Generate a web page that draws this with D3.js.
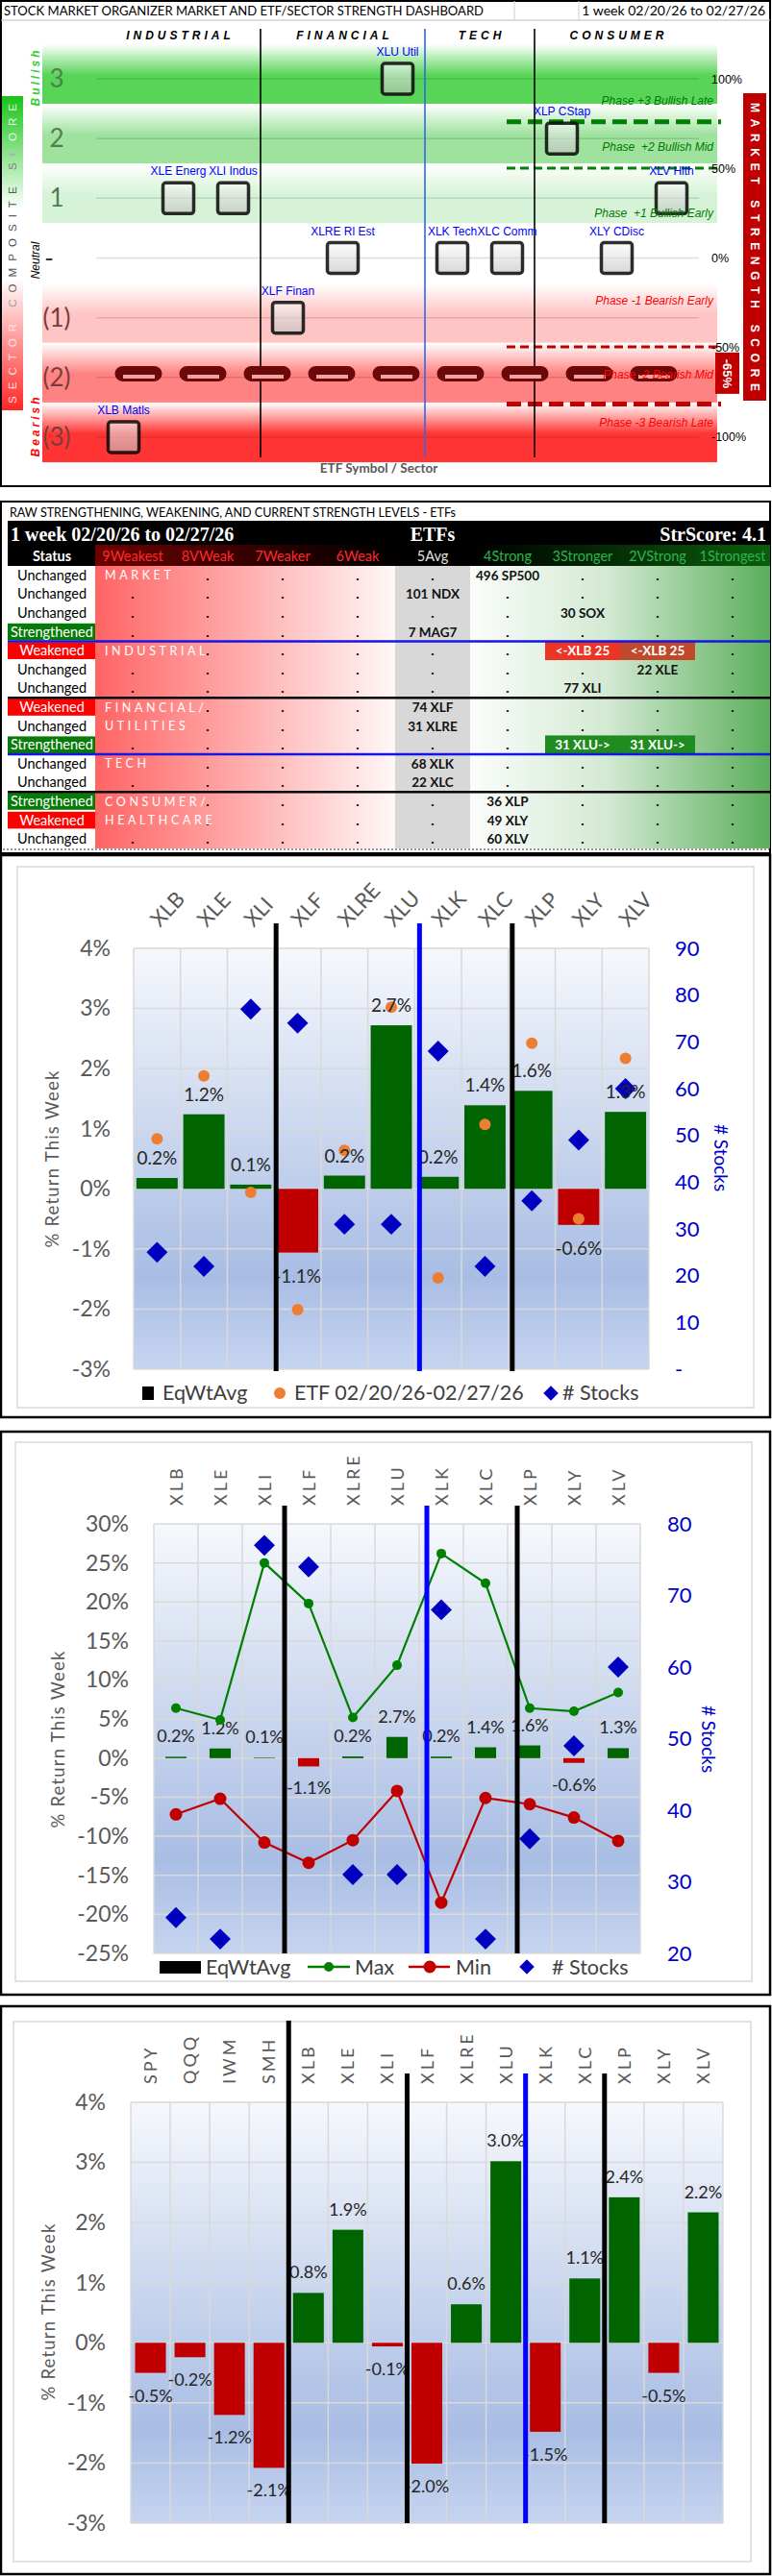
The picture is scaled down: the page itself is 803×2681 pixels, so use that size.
<!DOCTYPE html>
<html>
<head>
<meta charset="utf-8">
<title>ETF Sector Strength Dashboard</title>
<script src="https://cdn.jsdelivr.net/npm/d3@7"></script>
<style>
  html, body { margin: 0; padding: 0; background: #fff; }
  svg { display: block; }
  text { white-space: pre; }
</style>
</head>
<body>
<div id="app"></div>
<script>
const FONT = 'Lato, "Open Sans", "Liberation Sans", sans-serif';
const SANS = '"Liberation Sans", Arial, sans-serif';
const SERIF = '"Liberation Serif", "Times New Roman", serif';

// ---------- data ----------
const dashboardTitle = 'STOCK MARKET ORGANIZER MARKET AND ETF/SECTOR STRENGTH DASHBOARD';
const periodLabel = '1 week 02/20/26 to 02/27/26';
const legendPeriod = 'ETF 02/20/26-02/27/26';

const sectors = ['XLB', 'XLE', 'XLI', 'XLF', 'XLRE', 'XLU', 'XLK', 'XLC', 'XLP', 'XLY', 'XLV'];
const sectorNames = ['Matls', 'Energ', 'Indus', 'Finan', 'Rl Est', 'Util', 'Tech', 'Comm', 'CStap', 'CDisc', 'Hlth'];
const sectorGroup = [0, 0, 0, 1, 1, 1, 2, 2, 3, 3, 3];
const groupNames = ['INDUSTRIAL', 'FINANCIAL', 'TECH', 'CONSUMER'];
const compositeScore = [-3, 1, 1, -1, 0, 3, 0, 0, 2, 0, 1];

const scoreLevels = [3, 2, 1, 0, -1, -2, -3];
const scoreLabels = ['3', '2', '1', '-', '(1)', '(2)', '(3)'];
const phaseNames = ['Phase +3 Bullish Late', 'Phase  +2 Bullish Mid', 'Phase  +1 Bullish Early', '',
  'Phase -1 Bearish Early', 'Phase -2 Bearish Mid', 'Phase -3 Bearish Late'];
const strengthPctTicks = [100, 50, 0, -50, -100];
const thresholdPct = [76, 50, -50, -82];
const marketStrengthPct = -65;

const tableTitle = 'RAW STRENGTHENING, WEAKENING, AND CURRENT STRENGTH LEVELS - ETFs';
const strScore = 4.1;
const strengthLevels = ['9Weakest', '8VWeak', '7Weaker', '6Weak', '5Avg', '4Strong', '3Stronger', '2VStrong', '1Strongest'];
const rowStatus = ['Unchanged', 'Unchanged', 'Unchanged', 'Strengthened', 'Weakened', 'Unchanged', 'Unchanged',
  'Weakened', 'Unchanged', 'Strengthened', 'Unchanged', 'Unchanged', 'Strengthened', 'Weakened', 'Unchanged'];
const rowGroupLabel = ['MARKET', '', '', '', 'INDUSTRIAL', '', '', 'FINANCIAL/', 'UTILITIES', '', 'TECH', '',
  'CONSUMER/', 'HEALTHCARE', ''];
const rowGroupEnd = [3, 6, 9, 11];
const tableCells = [
  [0, '4Strong', '496 SP500', ''],
  [1, '5Avg', '101 NDX', ''],
  [2, '3Stronger', '30 SOX', ''],
  [3, '5Avg', '7 MAG7', ''],
  [4, '3Stronger', '<-XLB 25', 'down'],
  [4, '2VStrong', '<-XLB 25', 'down'],
  [5, '2VStrong', '22 XLE', ''],
  [6, '3Stronger', '77 XLI', ''],
  [7, '5Avg', '74 XLF', ''],
  [8, '5Avg', '31 XLRE', ''],
  [9, '3Stronger', '31 XLU->', 'up'],
  [9, '2VStrong', '31 XLU->', 'up'],
  [10, '5Avg', '68 XLK', ''],
  [11, '5Avg', '22 XLC', ''],
  [12, '4Strong', '36 XLP', ''],
  [13, '4Strong', '49 XLY', ''],
  [14, '4Strong', '60 XLV', '']
];

const eqWtAvg = [0.18, 1.24, 0.07, -1.06, 0.22, 2.72, 0.2, 1.39, 1.63, -0.6, 1.28];
const stockCount = [25, 22, 77, 74, 31, 31, 68, 22, 36, 49, 60];
const maxReturn = [6.4, 4.9, 25.0, 19.8, 5.2, 11.9, 26.2, 22.4, 6.4, 6.0, 8.4];
const minReturn = [-7.2, -5.2, -10.8, -13.4, -10.5, -4.2, -18.5, -5.1, -5.9, -7.6, -10.6];

const weekSymbols = ['SPY', 'QQQ', 'IWM', 'SMH'].concat(sectors);
const weekGroup = [-1, -1, -1, -1].concat(sectorGroup);
const weekReturn = [-0.5, -0.24, -1.2, -2.08, 0.83, 1.88, -0.06, -2.01, 0.64, 3.02, -1.48, 1.07, 2.42, -0.5, 2.17];
const etfReturn = weekReturn.slice(4);

// ---------- setup ----------
const svg = d3.select('#app').append('svg')
  .attr('width', 803)
  .attr('height', 2681);
const defs = svg.append('defs');

function gradient(id, stops, horizontal) {
  const g = defs.append('linearGradient').attr('id', id)
    .attr('x1', 0).attr('y1', 0).attr('x2', horizontal ? 1 : 0).attr('y2', horizontal ? 0 : 1);
  stops.forEach(s => g.append('stop').attr('offset', s[0]).attr('stop-color', s[1]));
}

const fmtPct = v => v.toFixed(1) + '%';

function groupBreaks(groups) {
  return d3.range(1, groups.length).filter(i => groups[i] !== groups[i - 1]);
}
function breakColor(groups, i) {
  return groups[i - 1] === 1 && groups[i] === 2 ? '#0000ff' : '#000';
}

//////////PANEL 1 : SECTOR MAP//////////
const p1 = svg.append('g');
p1.append('rect').attr('x', 1).attr('y', 1).attr('width', 800).attr('height', 505)
  .attr('fill', '#fff').attr('stroke', '#000').attr('stroke-width', 2);
p1.append('line').attr('x1', 1).attr('x2', 801).attr('y1', 21).attr('y2', 21).attr('stroke', '#bcbcbc');
p1.selectAll(null).data([535, 602]).join('line')
  .attr('x1', d => d).attr('x2', d => d).attr('y1', 1).attr('y2', 21).attr('stroke', '#d0d0d0');
p1.append('text').attr('x', 4).attr('y', 16)
  .attr('font-family', FONT).attr('font-size', 13)
  .attr('textLength', 499).attr('lengthAdjust', 'spacingAndGlyphs')
  .text(dashboardTitle);
p1.append('text').attr('x', 796).attr('y', 16).attr('text-anchor', 'end')
  .attr('font-family', FONT).attr('font-size', 14)
  .text(periodLabel);

const xS = d3.scaleBand().domain(sectors).range([100, 727]);
const yScore = d3.scaleLinear().domain([-3, 3]).range([455, 82]);
const yPct = d3.scaleLinear().domain([-100, 100]).range([454, 82]);

const bandColors = ['#58d558', '#9ee29e', '#d7f3d7', '#ffffff', '#ffc4c4', '#ff8282', '#ff3535'];
scoreLevels.forEach((s, i) => gradient('band' + i, [[0, '#ffffff'], [0.52, bandColors[i]], [1, bandColors[i]]]));

p1.append('g').selectAll('rect').data(scoreLevels).join('rect')
  .attr('x', 44).attr('width', 702)
  .attr('y', d => yScore(d + 0.58))
  .attr('height', d => yScore(d - 0.42) - yScore(d + 0.58))
  .attr('fill', (d, i) => `url(#band${i})`);

p1.append('g').selectAll('line').data(scoreLevels).join('line')
  .attr('x1', 100).attr('x2', 727)
  .attr('y1', d => yScore(d)).attr('y2', d => yScore(d))
  .attr('stroke', 'rgba(0,0,0,0.13)').attr('stroke-width', 1.5);

// threshold dashes
p1.append('g').selectAll('line').data(thresholdPct).join('line')
  .attr('x1', 527).attr('x2', 750)
  .attr('y1', d => yPct(d)).attr('y2', d => yPct(d))
  .attr('stroke', d => d > 0 ? '#008000' : '#c00000')
  .attr('stroke-width', d => Math.abs(d) > 60 ? 5 : 3)
  .attr('stroke-dasharray', d => Math.abs(d) > 60 ? '15 7' : '9 5');

// group separators
const p1Breaks = groupBreaks(sectorGroup);
p1.append('g').selectAll('line').data(p1Breaks).join('line')
  .attr('x1', d => xS(sectors[d])).attr('x2', d => xS(sectors[d]))
  .attr('y1', 30).attr('y2', 476)
  .attr('stroke', d => breakColor(sectorGroup, d) === '#000' ? '#000' : '#2f66f0')
  .attr('stroke-width', 1.6);

// group headers
p1.append('g').selectAll('text').data(groupNames).join('text')
  .attr('x', (d, gi) => {
    const idx = d3.range(sectors.length).filter(i => sectorGroup[i] === gi);
    return (xS(sectors[idx[0]]) + xS(sectors[idx[idx.length - 1]]) + xS.bandwidth()) / 2 + 2;
  })
  .attr('y', 41).attr('text-anchor', 'middle')
  .attr('font-family', SANS).attr('font-size', 12).attr('font-weight', 'bold').attr('font-style', 'italic')
  .attr('letter-spacing', 4)
  .text(d => d);

// market strength pills
const pillY = yPct(marketStrengthPct);
p1.append('line').attr('x1', 127.5).attr('x2', 696.5).attr('y1', pillY).attr('y2', pillY)
  .attr('stroke', '#6b0808').attr('stroke-width', 16)
  .attr('stroke-linecap', 'round').attr('stroke-dasharray', '33 34');
p1.append('line').attr('x1', 128).attr('x2', 697).attr('y1', pillY + 3).attr('y2', pillY + 3)
  .attr('stroke', '#f2a0a0').attr('stroke-width', 4).attr('stroke-dasharray', '33 34');

// sector boxes
gradient('boxFill', [[0, '#fbfbfb'], [1, '#bdbdbd']]);
const boxes = p1.append('g').selectAll('g').data(sectors).join('g')
  .attr('transform', (d, i) => `translate(${xS(d) + xS.bandwidth() / 2},${yScore(compositeScore[i])})`);
boxes.append('rect')
  .attr('x', -16).attr('y', -16).attr('width', 32).attr('height', 32).attr('rx', 3)
  .attr('fill', 'url(#boxFill)').attr('fill-opacity', 0.6)
  .attr('stroke', '#000').attr('stroke-opacity', 0.82).attr('stroke-width', 3.5);
boxes.append('text')
  .attr('y', -24).attr('text-anchor', 'middle')
  .attr('font-family', SANS).attr('font-size', 12).attr('fill', '#0000ff')
  .text((d, i) => d + ' ' + sectorNames[i]);

// score labels
p1.append('g').selectAll('text').data(scoreLevels).join('text')
  .attr('x', d => d === 0 ? 51 : 59).attr('y', d => yScore(d) + 9)
  .attr('text-anchor', 'middle')
  .attr('font-family', FONT).attr('font-size', 26)
  .attr('fill', d => d > 0 ? '#4f7f4f' : d < 0 ? '#7d3c3c' : '#333')
  .text((d, i) => scoreLabels[i]);

// strength percent labels
p1.append('g').selectAll('text').data(strengthPctTicks).join('text')
  .attr('x', 740).attr('y', d => yPct(d) + 5)
  .attr('font-family', SANS).attr('font-size', 12.5)
  .text(d => d + '%');

// phase labels
const phaseDy = [27, 13, 20, 0, -14, 1, -11];
p1.append('g').selectAll('text').data(scoreLevels).join('text')
  .attr('x', 742).attr('y', (d, i) => yScore(d) + phaseDy[i])
  .attr('text-anchor', 'end')
  .attr('font-family', SANS).attr('font-size', 12).attr('font-style', 'italic')
  .attr('fill', d => d > 0 ? '#007a00' : '#ff0000')
  .text((d, i) => phaseNames[i]);

// right side market strength score
p1.append('rect').attr('x', 744).attr('y', pillY - 22).attr('width', 25).attr('height', 43).attr('fill', '#c00000');
p1.append('text')
  .attr('transform', `translate(756.5,${pillY}) rotate(90)`)
  .attr('text-anchor', 'middle').attr('dominant-baseline', 'central')
  .attr('font-family', SANS).attr('font-size', 13).attr('font-weight', 'bold').attr('fill', '#fff')
  .text(marketStrengthPct + '%');
p1.append('rect').attr('x', 773).attr('y', 97).attr('width', 24).attr('height', 320).attr('fill', '#c00000');
p1.append('text')
  .attr('transform', 'translate(785,257) rotate(90)')
  .attr('text-anchor', 'middle').attr('dominant-baseline', 'central')
  .attr('font-family', SANS).attr('font-size', 12).attr('font-weight', 'bold').attr('fill', '#fff')
  .attr('textLength', 300).attr('lengthAdjust', 'spacing')
  .text('MARKET STRENGTH SCORE');

// left side composite score
gradient('leftBar', [[0, '#18c418'], [0.36, '#ffffff'], [0.58, '#ffffff'], [1, '#ff2626']]);
gradient('leftText', [[0, '#ffe4e4'], [0.26, '#ffe4e4'], [0.4, '#555555'], [0.76, '#555555'], [0.88, '#e6f6e6'], [1, '#e6f6e6']], true);
p1.append('rect').attr('x', 2).attr('y', 100).attr('width', 22).attr('height', 327).attr('fill', 'url(#leftBar)');
p1.append('text')
  .attr('transform', 'translate(13,264) rotate(-90)')
  .attr('text-anchor', 'middle').attr('dominant-baseline', 'central')
  .attr('font-family', SANS).attr('font-size', 11.5).attr('fill', 'url(#leftText)')
  .attr('textLength', 312).attr('lengthAdjust', 'spacing')
  .text('SECTOR COMPOSITE SCORE');
[['Bullish', 80, '#33cc33', 'bold', 3], ['Neutral', 271, '#000', 'normal', 0], ['Bearish', 443, '#ff0000', 'bold', 3]]
  .forEach(([t, cy, c, w, ls]) => {
    p1.append('text')
      .attr('transform', `translate(37,${cy}) rotate(-90)`)
      .attr('text-anchor', 'middle').attr('dominant-baseline', 'central')
      .attr('font-family', SANS).attr('font-size', 12).attr('font-style', 'italic').attr('font-weight', w)
      .attr('letter-spacing', ls).attr('fill', c)
      .text(t);
  });

p1.append('text').attr('x', 394).attr('y', 492).attr('text-anchor', 'middle')
  .attr('font-family', FONT).attr('font-size', 13.5).attr('font-weight', 'bold').attr('fill', '#595959')
  .text('ETF Symbol / Sector');

//////////PANEL 2 : TABLE//////////
const p2 = svg.append('g');
p2.append('rect').attr('x', 1).attr('y', 522).attr('width', 800).attr('height', 366)
  .attr('fill', '#fff').attr('stroke', '#000').attr('stroke-width', 2);
p2.append('text').attr('x', 10).attr('y', 538)
  .attr('font-family', FONT).attr('font-size', 12.5)
  .attr('textLength', 464).attr('lengthAdjust', 'spacingAndGlyphs')
  .text(tableTitle);

p2.append('rect').attr('x', 8).attr('y', 542).attr('width', 793).attr('height', 47).attr('fill', '#000');
p2.append('text').attr('x', 11).attr('y', 563)
  .attr('font-family', SERIF).attr('font-size', 20).attr('font-weight', 'bold').attr('fill', '#fff')
  .text(periodLabel);
p2.append('text').attr('x', 450).attr('y', 563).attr('text-anchor', 'middle')
  .attr('font-family', SERIF).attr('font-size', 20).attr('font-weight', 'bold').attr('fill', '#fff')
  .text('ETFs');
p2.append('text').attr('x', 797).attr('y', 563).attr('text-anchor', 'end')
  .attr('font-family', SERIF).attr('font-size', 20).attr('font-weight', 'bold').attr('fill', '#fff')
  .text('StrScore: ' + strScore);

const xc = d3.scaleBand().domain(strengthLevels).range([99, 801]);
const yr = d3.scaleBand().domain(d3.range(rowStatus.length)).range([589, 883]);
const cw = xc.bandwidth();
const rh = yr.bandwidth();

gradient('hdrGrad', [[0, '#6e0000'], [0.444, '#000'], [0.556, '#000'], [1, '#0b5e0b']], true);
p2.append('rect').attr('x', 99).attr('y', 567).attr('width', 702).attr('height', 22).attr('fill', 'url(#hdrGrad)');
p2.append('text').attr('x', 54).attr('y', 584).attr('text-anchor', 'middle')
  .attr('font-family', FONT).attr('font-size', 14.5).attr('font-weight', 'bold').attr('fill', '#fff')
  .text('Status');
p2.append('g').selectAll('text').data(strengthLevels).join('text')
  .attr('x', d => xc(d) + cw / 2).attr('y', 584).attr('text-anchor', 'middle')
  .attr('font-family', FONT).attr('font-size', 14.5)
  .attr('fill', (d, i) => i < 4 ? '#ff2a2a' : i === 4 ? '#e2e2e2' : '#2fb34f')
  .text(d => d);

// body backgrounds
gradient('redFade', [[0, '#ff6464'], [1, '#fff7f7']], true);
gradient('greenFade', [[0, '#fbfdfb'], [0.45, '#d4ead4'], [1, '#5aae5a']], true);
p2.append('rect').attr('x', xc('9Weakest')).attr('y', 589).attr('width', xc('5Avg') - xc('9Weakest'))
  .attr('height', 294).attr('fill', 'url(#redFade)');
p2.append('rect').attr('x', xc('5Avg')).attr('y', 589).attr('width', cw).attr('height', 294).attr('fill', '#d8d8d8');
p2.append('rect').attr('x', xc('4Strong')).attr('y', 589).attr('width', 801 - xc('4Strong'))
  .attr('height', 294).attr('fill', 'url(#greenFade)');

// status column
const statusFill = { Unchanged: '#fff', Strengthened: '#087a08', Weakened: '#ff0000' };
const statusRows = p2.append('g').selectAll('g').data(rowStatus).join('g')
  .attr('transform', (d, i) => `translate(0,${yr(i)})`);
statusRows.append('rect').attr('x', 8).attr('y', 1).attr('width', 91).attr('height', rh - 2)
  .attr('fill', d => statusFill[d]);
statusRows.append('text').attr('x', 54).attr('y', rh / 2 + 5).attr('text-anchor', 'middle')
  .attr('font-family', FONT).attr('font-size', 14.5)
  .attr('fill', d => d === 'Unchanged' ? '#000' : '#fff')
  .text(d => d);

// highlighted cells
const hiFill = { down: { '3Stronger': '#ec3524', '2VStrong': '#c1492b' }, up: { '3Stronger': '#1f8c1f', '2VStrong': '#1f8c1f' } };
p2.append('g').selectAll('rect').data(tableCells.filter(c => c[3])).join('rect')
  .attr('x', d => xc(d[1])).attr('y', d => yr(d[0])).attr('width', cw).attr('height', rh)
  .attr('fill', d => hiFill[d[3]][d[1]]);

// dots
const dots = [];
rowStatus.forEach((s, r) => strengthLevels.forEach((lv, j) => {
  if (tableCells.some(c => c[0] === r && c[1] === lv)) return;
  if (j === 0 && rowGroupLabel[r]) return;
  dots.push([r, lv]);
}));
p2.append('g').selectAll('text').data(dots).join('text')
  .attr('x', d => xc(d[1]) + cw / 2).attr('y', d => yr(d[0]) + rh / 2 + 5)
  .attr('text-anchor', 'middle')
  .attr('font-family', FONT).attr('font-size', 14).attr('font-weight', 'bold')
  .text('.');

// values
p2.append('g').selectAll('text').data(tableCells).join('text')
  .attr('x', d => xc(d[1]) + cw / 2).attr('y', d => yr(d[0]) + rh / 2 + 5)
  .attr('text-anchor', 'middle')
  .attr('font-family', FONT).attr('font-size', 13.5).attr('font-weight', 'bold')
  .attr('fill', d => d[3] ? '#fff' : '#111')
  .text(d => d[2]);

// group labels
p2.append('g').selectAll('text').data(rowGroupLabel).join('text')
  .attr('x', 109).attr('y', (d, i) => yr(i) + rh / 2 + 4.5)
  .attr('font-family', FONT).attr('font-size', 12.5).attr('letter-spacing', 3.6).attr('fill', '#fff')
  .text(d => d);

// group separators
p2.append('g').selectAll('line').data(rowGroupEnd).join('line')
  .attr('x1', 8).attr('x2', 801)
  .attr('y1', d => yr(d) + rh).attr('y2', d => yr(d) + rh)
  .attr('stroke', (d, i) => i % 2 === 0 ? '#1515e6' : '#000').attr('stroke-width', 2.5);
p2.append('line').attr('x1', 3).attr('x2', 800).attr('y1', 884).attr('y2', 884)
  .attr('stroke', '#333').attr('stroke-dasharray', '2 2');

//////////RETURN CHARTS//////////
gradient('plotBg', [[0, '#f6f8fc'], [0.5, '#c4d2ec'], [0.78, '#a9bde4'], [1, '#c6d4ef']]);

function returnChart(o) {
  const g = svg.append('g');
  g.append('rect').attr('x', 1).attr('y', o.top).attr('width', 800).attr('height', o.height)
    .attr('fill', '#fff').attr('stroke', '#000').attr('stroke-width', 2.5);
  g.append('rect').attr('x', o.inner[0]).attr('y', o.inner[1]).attr('width', o.inner[2]).attr('height', o.inner[3])
    .attr('fill', 'none').attr('stroke', '#d9d9d9').attr('stroke-width', 1.5);
  const [x0, x1] = o.x.range();
  const [yb, yt] = o.y.range();
  g.append('rect').attr('x', x0).attr('y', yt).attr('width', x1 - x0).attr('height', yb - yt)
    .attr('fill', 'url(#plotBg)');
  g.append('g').selectAll('line').data(o.yTicks).join('line')
    .attr('x1', x0).attr('x2', x1).attr('y1', d => o.y(d)).attr('y2', d => o.y(d))
    .attr('stroke', '#d9d9d9').attr('stroke-width', 1.5);
  g.append('g').selectAll('line').data(o.x.domain().map(d => o.x(d)).concat([x1])).join('line')
    .attr('x1', d => d).attr('x2', d => d).attr('y1', yt).attr('y2', yb)
    .attr('stroke', '#d9d9d9').attr('stroke-width', 1.5);

  const ax = g.append('g').attr('transform', `translate(${x0},0)`)
    .call(d3.axisLeft(o.y).tickValues(o.yTicks).tickSize(0).tickPadding(o.tickPad).tickFormat(d => d + '%'));
  ax.select('.domain').remove();
  ax.selectAll('text').attr('font-family', FONT).attr('font-size', 23).attr('fill', '#595959');

  g.append('g').selectAll('text').data(o.x.domain()).join('text')
    .attr('transform', d => `translate(${o.x(d) + o.x.bandwidth() / 2 + o.catDx},${o.catY}) rotate(${o.catRot})`)
    .attr('font-family', FONT).attr('font-size', o.catSize).attr('letter-spacing', o.catSpacing)
    .attr('fill', '#595959')
    .text(d => d);

  g.append('text')
    .attr('transform', `translate(${o.titleX},${o.titleY}) rotate(-90)`)
    .attr('text-anchor', 'middle').attr('dominant-baseline', 'central')
    .attr('font-family', FONT).attr('font-size', 18.5).attr('letter-spacing', 1.2).attr('fill', '#595959')
    .text('% Return This Week');
  return g;
}

function drawBars(g, x, y, symbols, values, frac) {
  const bw = x.bandwidth() * frac;
  g.append('g').selectAll('rect').data(values).join('rect')
    .attr('x', (d, i) => x(symbols[i]) + (x.bandwidth() - bw) / 2)
    .attr('width', bw)
    .attr('y', d => y(Math.max(0, d)))
    .attr('height', d => Math.abs(y(d) - y(0)))
    .attr('fill', d => d >= 0 ? '#006400' : '#c00000');
}

function drawBarLabels(g, x, y, symbols, values, size, posOff, negOff) {
  g.append('g').selectAll('text').data(values).join('text')
    .attr('x', (d, i) => x(symbols[i]) + x.bandwidth() / 2)
    .attr('y', d => d >= 0 ? y(d) - posOff : y(d) + negOff)
    .attr('text-anchor', 'middle')
    .attr('font-family', FONT).attr('font-size', size).attr('fill', '#262626')
    .text(d => fmtPct(d));
}

function drawSeparators(g, x, symbols, groups, topFn, bottom, offsets) {
  g.append('g').selectAll('line').data(groupBreaks(groups)).join('line')
    .attr('x1', (d, k) => x(symbols[d]) + offsets[k]).attr('x2', (d, k) => x(symbols[d]) + offsets[k])
    .attr('y1', d => topFn(d)).attr('y2', bottom)
    .attr('stroke', d => breakColor(groups, d)).attr('stroke-width', 5);
}

function rightAxis(g, scale, ticks, x, pad, fmt) {
  const a = g.append('g').attr('transform', `translate(${x},0)`)
    .call(d3.axisRight(scale).tickValues(ticks).tickSize(0).tickPadding(pad).tickFormat(fmt));
  a.select('.domain').remove();
  a.selectAll('text').attr('font-family', FONT).attr('font-size', 22).attr('fill', '#0000cc');
}

const diamond = d3.symbol().type(d3.symbolSquare).size(240);
const smallDiamond = d3.symbol().type(d3.symbolSquare).size(120);

function drawDiamonds(g, x, ny, symbols, counts) {
  g.append('g').selectAll('path').data(counts).join('path')
    .attr('d', diamond)
    .attr('transform', (d, i) => `translate(${x(symbols[i]) + x.bandwidth() / 2},${ny(d)}) rotate(45)`)
    .attr('fill', '#0000c0');
}

function stocksTitle(g, cx, cy) {
  g.append('text')
    .attr('transform', `translate(${cx},${cy}) rotate(90)`)
    .attr('text-anchor', 'middle').attr('dominant-baseline', 'central')
    .attr('font-family', FONT).attr('font-size', 19).attr('fill', '#0000cc')
    .text('# Stocks');
}

function legendText(g, x, y, t) {
  g.append('text').attr('x', x).attr('y', y)
    .attr('font-family', FONT).attr('font-size', 21.5).attr('fill', '#404040')
    .text(t);
}

//////////PANEL 3//////////
const x3 = d3.scaleBand().domain(sectors).range([139, 675]);
const y3 = d3.scaleLinear().domain([-3, 4]).range([1425, 987]);
const n3 = d3.scaleLinear().domain([0, 90]).range([1425, 987]);
const g3 = returnChart({
  top: 890, height: 585, inner: [18, 902, 766, 563], x: x3, y: y3, yTicks: d3.range(-3, 5),
  tickPad: 24, catRot: -47, catDx: 3, catY: 966, catSize: 22, catSpacing: 0, titleX: 54, titleY: 1206
});
drawBars(g3, x3, y3, sectors, eqWtAvg, 0.88);
g3.append('g').selectAll('circle').data(etfReturn).join('circle')
  .attr('cx', (d, i) => x3(sectors[i]) + x3.bandwidth() / 2)
  .attr('cy', d => y3(d)).attr('r', 6).attr('fill', '#ed7d31');
drawDiamonds(g3, x3, n3, sectors, stockCount);
drawBarLabels(g3, x3, y3, sectors, eqWtAvg, 19, 14, 31);
rightAxis(g3, n3, d3.range(0, 100, 10), 675, 27, d => d === 0 ? '-' : d);
stocksTitle(g3, 750, 1205);
drawSeparators(g3, x3, sectors, sectorGroup, () => 961, 1427, [2, 5, 4]);

g3.append('rect').attr('x', 148).attr('y', 1443).attr('width', 12).attr('height', 14).attr('fill', '#000');
legendText(g3, 169, 1457, 'EqWtAvg');
g3.append('circle').attr('cx', 291).attr('cy', 1450).attr('r', 6).attr('fill', '#ed7d31');
legendText(g3, 306, 1457, legendPeriod);
g3.append('path').attr('d', smallDiamond).attr('transform', 'translate(573,1450) rotate(45)').attr('fill', '#0000c0');
legendText(g3, 585, 1457, '# Stocks');

//////////PANEL 4//////////
const x4 = d3.scaleBand().domain(sectors).range([160, 666]);
const y4 = d3.scaleLinear().domain([-25, 30]).range([2033, 1586]);
const n4 = d3.scaleLinear().domain([20, 80]).range([2033, 1586]);
const g4 = returnChart({
  top: 1490, height: 586, inner: [16, 1501, 766, 561], x: x4, y: y4, yTicks: d3.range(-25, 35, 5),
  tickPad: 26, catRot: -90, catDx: 6.5, catY: 1567, catSize: 18, catSpacing: 3, titleX: 60, titleY: 1810
});
drawBars(g4, x4, y4, sectors, eqWtAvg, 0.48);
drawBarLabels(g4, x4, y4, sectors, eqWtAvg, 18, 15, 29);

const cx4 = i => x4(sectors[i]) + x4.bandwidth() / 2;
[[maxReturn, '#008000', 5], [minReturn, '#c00000', 6.5]].forEach(([vals, col, r]) => {
  g4.append('path')
    .attr('d', d3.line().x((d, i) => cx4(i)).y(d => y4(d))(vals))
    .attr('fill', 'none').attr('stroke', col).attr('stroke-width', 2.2);
  g4.append('g').selectAll('circle').data(vals).join('circle')
    .attr('cx', (d, i) => cx4(i)).attr('cy', d => y4(d)).attr('r', r).attr('fill', col);
});
drawDiamonds(g4, x4, n4, sectors, stockCount);
rightAxis(g4, n4, d3.range(20, 90, 10), 666, 28, d => d);
stocksTitle(g4, 737, 1810);
drawSeparators(g4, x4, sectors, sectorGroup, () => 1567, 2033, [-2, 8, 10]);

g4.append('rect').attr('x', 166).attr('y', 2041).attr('width', 43).attr('height', 13).attr('fill', '#000');
legendText(g4, 214, 2055, 'EqWtAvg');
g4.append('line').attr('x1', 320).attr('x2', 364).attr('y1', 2047).attr('y2', 2047).attr('stroke', '#008000').attr('stroke-width', 2.5);
g4.append('circle').attr('cx', 342).attr('cy', 2047).attr('r', 5).attr('fill', '#008000');
legendText(g4, 369, 2055, 'Max');
g4.append('line').attr('x1', 425).attr('x2', 468).attr('y1', 2047).attr('y2', 2047).attr('stroke', '#c00000').attr('stroke-width', 2.5);
g4.append('circle').attr('cx', 447).attr('cy', 2047).attr('r', 6.5).attr('fill', '#c00000');
legendText(g4, 474, 2055, 'Min');
g4.append('path').attr('d', smallDiamond).attr('transform', 'translate(548,2047) rotate(45)').attr('fill', '#0000c0');
legendText(g4, 574, 2055, '# Stocks');

//////////PANEL 5//////////
const x5 = d3.scaleBand().domain(weekSymbols).range([136, 752]);
const y5 = d3.scaleLinear().domain([-3, 4]).range([2626, 2188]);
const g5 = returnChart({
  top: 2088, height: 591, inner: [14, 2104, 767, 562], x: x5, y: y5, yTicks: d3.range(-3, 5),
  tickPad: 26, catRot: -90, catDx: 6.5, catY: 2169, catSize: 18, catSpacing: 3, titleX: 50, titleY: 2406
});
drawBars(g5, x5, y5, weekSymbols, weekReturn, 0.78);
drawBarLabels(g5, x5, y5, weekSymbols, weekReturn, 18, 15, 30);
drawSeparators(g5, x5, weekSymbols, weekGroup, d => d === 4 ? 2103 : 2158, 2626, [0, 0, 0, 0]);
</script>
</body>
</html>
